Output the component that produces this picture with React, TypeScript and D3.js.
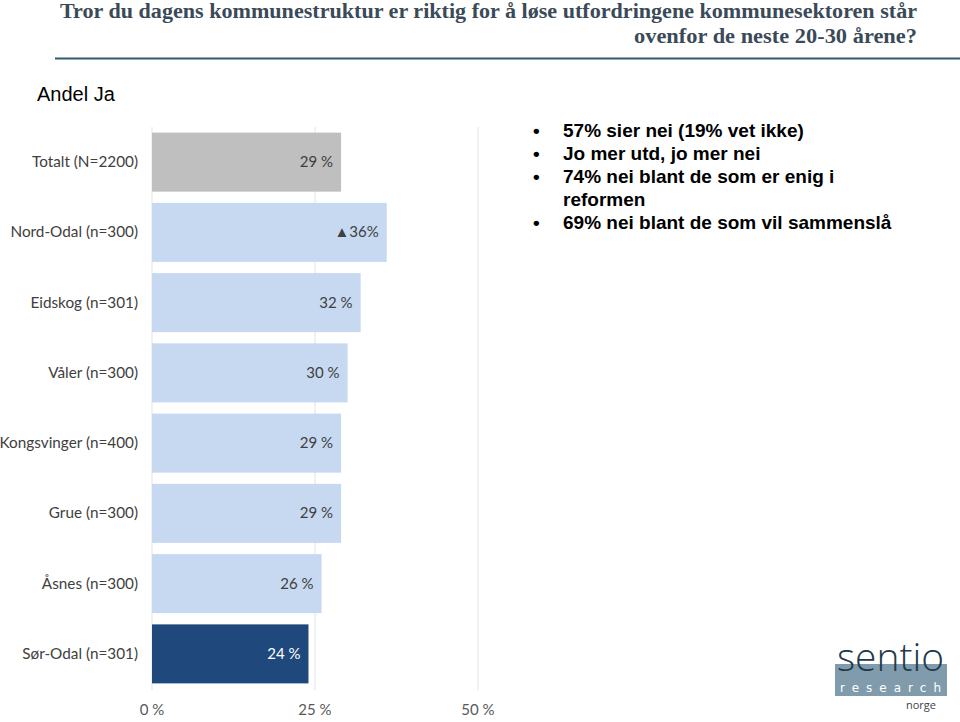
import React from "react";
import * as d3 from "d3";

const categories = [
  "Totalt (N=2200)",
  "Nord-Odal (n=300)",
  "Eidskog (n=301)",
  "Våler (n=300)",
  "Kongsvinger (n=400)",
  "Grue (n=300)",
  "Åsnes (n=300)",
  "Sør-Odal (n=301)",
];
const values = [29, 36, 32, 30, 29, 29, 26, 24];
const valueLabels = ["29 %", "▲36%", "32 %", "30 %", "29 %", "29 %", "26 %", "24 %"];
const barColors = ["#bfbfbf", "#c6d9f1", "#c6d9f1", "#c6d9f1", "#c6d9f1", "#c6d9f1", "#c6d9f1", "#1f497d"];
const ticks = [0, 25, 50];
const bullets = [
  ["57% sier nei (19% vet ikke)"],
  ["Jo mer utd, jo mer nei"],
  ["74% nei blant de som er enig i", "reformen"],
  ["69% nei blant de som vil sammenslå"],
];

export default function App() {
  const W = 960, H = 722;
  const x = d3.scaleLinear().domain([0, 50]).range([152, 478]);
  const y = d3.scaleBand<string>().domain(categories).range([127, 689]).paddingInner(0.16).paddingOuter(0.08);
  const catFont = "Lato, 'Open Sans', sans-serif";
  let bulletLine = 0;
  return (
    <svg width={W} height={H} style={{ position: "absolute", left: 0, top: 0, background: "#fff" }}>
      <rect width={W} height={H} fill="#fff" />
      {/* Title */}
      <g fontFamily="'Liberation Serif', serif" fontWeight="bold" fill="#3b4a58" fontSize={20} textAnchor="end">
        <text x={917} y={18} textLength={857} lengthAdjust="spacingAndGlyphs">Tror du dagens kommunestruktur er riktig for å løse utfordringene kommunesektoren står</text>
        <text x={917} y={43} textLength={283} lengthAdjust="spacingAndGlyphs">ovenfor de neste 20-30 årene?</text>
      </g>
      <line x1={55} x2={960} y1={58.5} y2={58.5} stroke="#2f5b6b" strokeWidth={2} />
      <text x={37} y={101} fontFamily="'Liberation Sans', Arial, sans-serif" fontSize={20} fill="#000">Andel Ja</text>

      {/* grid */}
      {ticks.map((t) => (
        <line key={t} x1={x(t)} x2={x(t)} y1={127} y2={690} stroke="#e3e3e3" strokeWidth={1} />
      ))}
      {/* bars */}
      {categories.map((c, i) => (
        <g key={c}>
          <rect x={x(0)} y={y(c)} width={x(values[i]) - x(0)} height={y.bandwidth()} fill={barColors[i]} />
          <text x={x(values[i]) - 8} y={(y(c) as number) + y.bandwidth() / 2 + 5} textAnchor="end"
            fontFamily={catFont} fontSize={15} fill={i === categories.length - 1 ? "#ffffff" : "#404040"}>
            {valueLabels[i]}
          </text>
          <text x={138} y={(y(c) as number) + y.bandwidth() / 2 + 5} textAnchor="end"
            fontFamily={catFont} fontSize={15.3} fill="#404040">{c}</text>
        </g>
      ))}
      {ticks.map((t) => (
        <text key={t} x={x(t)} y={715} textAnchor="middle" fontFamily={catFont} fontSize={15} fill="#595959">{t} %</text>
      ))}

      {/* bullets */}
      <g fontFamily="'Liberation Sans', Arial, sans-serif" fontWeight="bold" fontSize={19} fill="#000">
        {bullets.map((b, i) => {
          const start = bulletLine;
          bulletLine += b.length;
          return (
            <g key={i}>
              <text x={533} y={137 + start * 23}>•</text>
              {b.map((l, j) => (
                <text key={j} x={563} y={137 + (start + j) * 23}>{l}</text>
              ))}
            </g>
          );
        })}
      </g>

      {/* logo */}
      <g>
        <rect x={835} y={664} width={112} height={32} fill="#7f9bac" />
        <text x={837} y={671} fontFamily="'Open Sans', sans-serif" fontWeight={300} fontSize={38} fill="#22394a" textLength={107} lengthAdjust="spacingAndGlyphs">sentio</text>
        <text x={840} y={692} fontFamily="'DejaVu Sans', sans-serif" fontSize={12} fill="#fff" textLength={101} lengthAdjust="spacing">research</text>
        <text x={936} y={709} textAnchor="end" fontFamily="'Open Sans', sans-serif" fontSize={11} fill="#444">norge</text>
      </g>
    </svg>
  );
}
